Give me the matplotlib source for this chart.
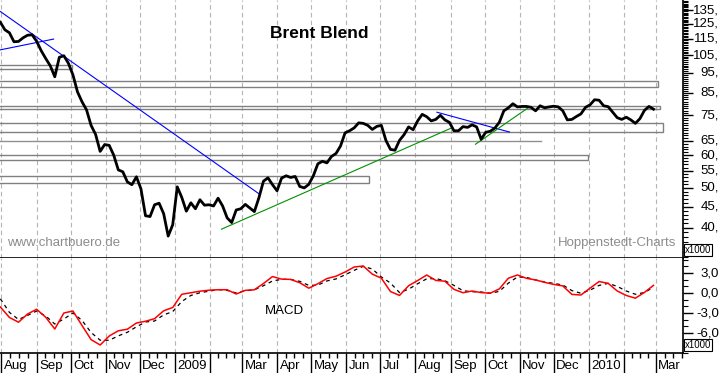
import matplotlib
matplotlib.use('Agg')
import matplotlib.pyplot as plt
import matplotlib.transforms as mtransforms
from matplotlib.patches import Rectangle
from matplotlib.ticker import FixedLocator, NullFormatter
import pandas as pd

plt.rcParams['font.family'] = ['Liberation Sans', 'DejaVu Sans']

# ---------------- data ----------------
price_dates = pd.date_range('2008-07-31', periods=145, freq='4D')
price = [126.1, 120.9, 118.9, 113.1, 113.3, 115.6, 117.3, 117.6, 113.4, 107.6,
         103.0, 98.9, 93.0, 103.7, 104.6, 100.3, 94.0, 85.5, 80.9, 77.3,
         70.9, 67.4, 61.3, 63.7, 63.4, 60.0, 55.3, 54.7, 51.7, 50.9,
         53.2, 49.7, 42.8, 42.6, 45.5, 45.9, 43.3, 38.2, 40.7, 50.3,
         47.4, 43.9, 46.0, 44.5, 46.8, 45.4, 45.5, 45.2, 47.2, 45.2,
         42.3, 41.2, 44.2, 44.5, 45.6, 44.7, 43.8, 47.3, 51.9, 52.9,
         50.9, 49.2, 52.8, 53.5, 53.0, 53.3, 50.4, 50.0, 51.0, 53.5,
         57.2, 58.0, 57.5, 59.6, 60.6, 63.2, 68.0, 68.8, 69.9, 71.9,
         71.7, 70.9, 69.3, 70.5, 70.9, 65.2, 62.0, 61.7, 65.2, 67.3,
         70.3, 69.2, 72.7, 75.4, 74.4, 72.7, 73.3, 75.0, 73.1, 72.1,
         68.8, 68.8, 70.4, 70.1, 71.1, 70.3, 65.6, 68.2, 68.6, 69.8,
         72.1, 76.9, 78.2, 80.0, 78.6, 78.8, 78.8, 78.4, 76.9, 79.1,
         78.2, 78.6, 78.9, 78.6, 76.9, 73.1, 73.3, 74.5, 75.6, 78.4,
         79.5, 81.8, 81.6, 79.1, 78.7, 76.3, 74.0, 73.3, 74.2, 73.1,
         71.7, 73.6, 77.1, 78.8, 77.6]

macd_dates = pd.date_range('2008-07-31', periods=73, freq='8D')
macd = [-2.10, -3.67, -4.38, -3.15, -2.44, -3.64, -5.40, -3.00, -2.70, -4.87,
        -6.99, -7.80, -6.45, -5.67, -5.43, -4.50, -4.24, -3.85, -2.67, -2.17,
        -0.19, 0.04, 0.27, 0.42, 0.49, 0.49, -0.15, 0.40, 0.48, 1.42,
        2.47, 2.08, 2.04, 1.54, 0.72, 1.39, 2.17, 2.52, 3.15, 3.90,
        4.05, 2.83, 2.22, 0.22, -0.36, 1.09, 1.87, 2.70, 1.89, 1.77,
        0.55, 0.04, 0.30, 0.06, -0.03, 0.61, 2.22, 2.70, 2.20, 1.96,
        1.60, 1.29, 1.06, -0.21, -0.30, 0.72, 1.72, 1.45, 0.30, -0.37,
        -0.78, 0.09, 1.15]
signal = [-0.87, -2.91, -3.97, -3.36, -2.70, -3.45, -4.65, -3.90, -3.00, -4.11,
          -5.92, -7.08, -7.09, -6.43, -5.89, -5.07, -4.35, -4.20, -3.28, -2.79,
          -1.27, -0.37, 0.04, 0.27, 0.52, 0.40, 0.00, 0.34, 0.48, 1.09,
          1.80, 2.05, 2.04, 1.75, 1.14, 1.18, 1.81, 2.11, 2.73, 3.40,
          4.00, 3.60, 2.40, 1.50, 0.06, 0.57, 1.39, 2.13, 2.16, 1.84,
          1.14, 0.34, 0.19, 0.15, -0.04, 0.24, 1.48, 2.40, 2.34, 1.95,
          1.65, 1.44, 1.20, 0.36, -0.04, 0.42, 1.14, 1.45, 0.99, 0.30,
          -0.19, 0.07, 0.87]

# support / resistance zones
zone_lo = [97.1, 87.8, 77.6, 68.3, 58.4, 51.4]
zone_hi = [99.5, 91.0, 78.9, 71.8, 60.1, 53.5]
zone_end = ['2008-10-02', '2010-03-03', '2010-03-05', '2010-03-07', '2009-12-31', '2009-06-21']
level_val = 65.0
level_end = '2009-11-20'

# trend lines: (start date, start value, end date, end value)
blue_lines = [('2008-07-31', 133.9, '2009-03-16', 48.4),
              ('2008-07-31', 108.1, '2008-09-16', 114.8),
              ('2009-08-20', 76.3, '2009-10-23', 68.3)]
green_lines = [('2009-02-11', 39.7, '2009-09-02', 69.9),
               ('2009-09-23', 63.8, '2009-11-09', 78.4)]

price_ticks = [40, 45, 50, 55, 60, 65, 75, 85, 95, 105, 115, 125, 135]
macd_ticks = [3, 0, -3, -6]
macd_labels = ['3,0', '0,0', '-3,0', '-6,0']

month_starts = pd.date_range('2008-08-01', '2010-03-01', freq='MS')
month_labels = ['Aug', 'Sep', 'Oct', 'Nov', 'Dec', '2009', '', 'Mar', 'Apr', 'May',
                'Jun', 'Jul', 'Aug', 'Sep', 'Oct', 'Nov', 'Dec', '2010', '', 'Mar']

# ---------------- figure ----------------
W, H = 723, 373
fig = plt.figure(figsize=(W / 100, H / 100), dpi=100)
fig.patch.set_facecolor('white')

axw = 683 / W
ax = fig.add_axes([0, (H - 258) / H, axw, 258 / H])
ax2 = fig.add_axes([0, (H - 353) / H, axw, 95 / H])

xl = (pd.Timestamp('2008-07-30 16:24'), pd.Timestamp('2010-03-25'))
for a in (ax, ax2):
    a.set_xlim(*xl)
    a.set_facecolor('white')
    for s in ('top', 'left'):
        a.spines[s].set_visible(False)
    for s in ('bottom', 'right'):
        a.spines[s].set_color('black')
        a.spines[s].set_linewidth(1.2)
    for d in month_starts:
        a.axvline(d, color='#b4b4b4', lw=0.8, ls=(0, (4, 3)), zorder=0)

# ---- upper panel ----
ax.set_yscale('log')
ax.set_ylim(33.8, 142.8)
left_date = pd.Timestamp('2008-07-01')
for lo, hi, end in zip(zone_lo, zone_hi, zone_end):
    e = pd.Timestamp(end)
    ax.add_patch(Rectangle((left_date, lo), e - left_date, hi - lo, fill=False,
                           ec='#808080', lw=1.0, zorder=1))
ax.plot([left_date, pd.Timestamp(level_end)], [level_val, level_val],
        color='#909090', lw=1.0, zorder=1)
for d0, v0, d1, v1 in blue_lines:
    ax.plot([pd.Timestamp(d0), pd.Timestamp(d1)], [v0, v1], color='#0000ff', lw=0.8, zorder=2)
for d0, v0, d1, v1 in green_lines:
    ax.plot([pd.Timestamp(d0), pd.Timestamp(d1)], [v0, v1], color='#009000', lw=0.8, zorder=2)
ax.plot(price_dates, price, color='black', lw=2.0, solid_joinstyle='round', zorder=3)

ax.yaxis.tick_right()
ax.yaxis.set_major_locator(FixedLocator(price_ticks))
ax.yaxis.set_minor_locator(FixedLocator([v for v in range(34, 143) if v not in price_ticks]))
ax.yaxis.set_major_formatter(NullFormatter())
ax.yaxis.set_minor_formatter(NullFormatter())
ax.tick_params(axis='y', which='major', length=7, width=1, direction='out', color='black')
ax.tick_params(axis='y', which='minor', length=3.5, width=0.8, direction='out', color='black')
ax.tick_params(axis='x', which='both', bottom=False, labelbottom=False)
ytr = ax.get_yaxis_transform()
for v in price_ticks:
    ax.text(719 / 683, v, f'{v},', transform=ytr, ha='right', va='center',
            fontsize=9.5, clip_on=False)

# ---- MACD panel ----
ax2.set_ylim(-9.0, 5.25)
ax2.plot(macd_dates, macd, color='#ff0000', lw=1.1, zorder=3)
ax2.plot(macd_dates, signal, color='black', lw=0.9, ls=(0, (3, 3)), zorder=2)
ax2.yaxis.tick_right()
ax2.yaxis.set_major_locator(FixedLocator(macd_ticks))
ax2.yaxis.set_minor_locator(FixedLocator([v for v in range(-9, 6) if v not in macd_ticks]))
ax2.yaxis.set_major_formatter(NullFormatter())
ax2.yaxis.set_minor_formatter(NullFormatter())
ax2.tick_params(axis='y', which='major', length=7, width=1, direction='out')
ax2.tick_params(axis='y', which='minor', length=3.5, width=0.8, direction='out')
ytr2 = ax2.get_yaxis_transform()
for v, lab in zip(macd_ticks, macd_labels):
    ax2.text(719 / 683, v, lab, transform=ytr2, ha='right', va='center',
             fontsize=9.5, clip_on=False)

# x axis ticks
minor = []
for d in month_starts:
    nd = (d + pd.offsets.MonthBegin(1)) - d
    for k in (1, 2, 3):
        minor.append(d + nd * k / 4)
ax2.xaxis.set_major_locator(FixedLocator([matplotlib.dates.date2num(d) for d in month_starts]))
ax2.xaxis.set_minor_locator(FixedLocator([matplotlib.dates.date2num(d) for d in minor]))
ax2.xaxis.set_major_formatter(NullFormatter())
ax2.xaxis.set_minor_formatter(NullFormatter())
ax2.tick_params(axis='x', which='major', length=14.5, width=1, direction='out')
ax2.tick_params(axis='x', which='minor', length=3.8, width=1, direction='out')
xtr = mtransforms.blended_transform_factory(ax2.transData, fig.transFigure)
xtr = mtransforms.offset_copy(xtr, fig=fig, x=2.5, y=0, units='dots')
for d, lab in zip(month_starts, month_labels):
    if lab:
        ax2.text(d, (H - 366) / H, lab, transform=xtr, ha='left', va='center',
                 fontsize=9.5, clip_on=False)

# ---- texts ----
fig.text(319 / W, 1 - 33 / H, 'Brent Blend', fontsize=12.5, fontweight='bold',
         ha='center', va='center')
fig.text(7 / W, 1 - 243 / H, 'www.chartbuero.de', fontsize=9.5, color='#8c8c8c',
         ha='left', va='center')
fig.text(676 / W, 1 - 243 / H, 'Hoppenstedt-Charts', fontsize=9.5, color='#8c8c8c',
         ha='right', va='center')
fig.text(265 / W, 1 - 311 / H, 'MACD', fontsize=9.5, ha='left', va='center')
for yy in (250, 345):
    fig.text(698 / W, 1 - yy / H, 'x1000', fontsize=7, ha='center', va='center',
             bbox=dict(boxstyle='square,pad=0.12', fc='white', ec='black', lw=0.8))

fig.savefig('out.png', dpi=100)
